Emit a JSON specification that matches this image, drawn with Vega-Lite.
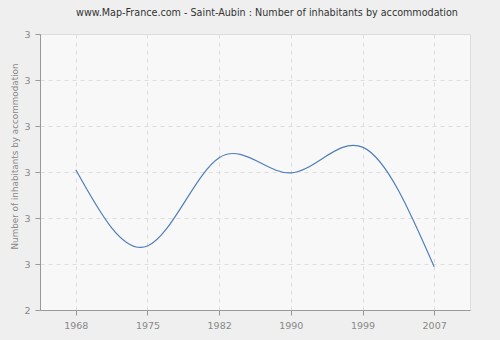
{
  "$schema": "https://vega.github.io/schema/vega-lite/v6.json",
  "width": 430,
  "height": 276,
  "autosize": {"type": "none"},
  "padding": {"left": 40, "top": 34, "right": 30, "bottom": 30},
  "background": "#efefef",
  "title": {
    "text": "www.Map-France.com - Saint-Aubin : Number of inhabitants by accommodation",
    "font": "DejaVu Sans",
    "fontSize": 9.6,
    "fontWeight": "normal",
    "color": "#333333",
    "anchor": "middle",
    "dx": 12,
    "offset": 11
  },
  "config": {
    "view": {"fill": "#f8f8f8", "stroke": "#dddddd", "strokeWidth": 1},
    "axis": {
      "labelFont": "DejaVu Sans",
      "labelFontSize": 9.5,
      "labelColor": "#888888",
      "titleFont": "DejaVu Sans",
      "titleFontSize": 8.8,
      "titleFontWeight": "normal",
      "titleColor": "#888888",
      "domainColor": "#999999",
      "tickColor": "#999999",
      "tickSize": 5,
      "gridColor": "#dddddd",
      "gridDash": [4, 4],
      "gridWidth": 1
    }
  },
  "data": {
    "values": [
      {"year": "1968", "value": 2.705},
      {"year": "1975", "value": 2.539},
      {"year": "1982", "value": 2.731},
      {"year": "1990", "value": 2.698},
      {"year": "1999", "value": 2.754},
      {"year": "2007", "value": 2.494}
    ]
  },
  "mark": {"type": "line", "interpolate": "natural", "color": "#4f7fba", "strokeWidth": 1.2},
  "encoding": {
    "x": {
      "field": "year",
      "type": "ordinal",
      "scale": {"type": "point", "padding": 0.5},
      "axis": {"title": null, "labelAngle": 0, "grid": true, "labelPadding": 5}
    },
    "y": {
      "field": "value",
      "type": "quantitative",
      "scale": {"domain": [2.4, 3.0], "nice": false, "zero": false},
      "axis": {
        "title": "Number of inhabitants by accommodation",
        "values": [2.4, 2.5, 2.6, 2.7, 2.8, 2.9, 3.0],
        "format": ".0f",
        "grid": true,
        "labelPadding": 5,
        "titleX": -26,
        "titleY": 122,
        "titleAlign": "center",
        "titleBaseline": "middle"
      }
    }
  }
}
